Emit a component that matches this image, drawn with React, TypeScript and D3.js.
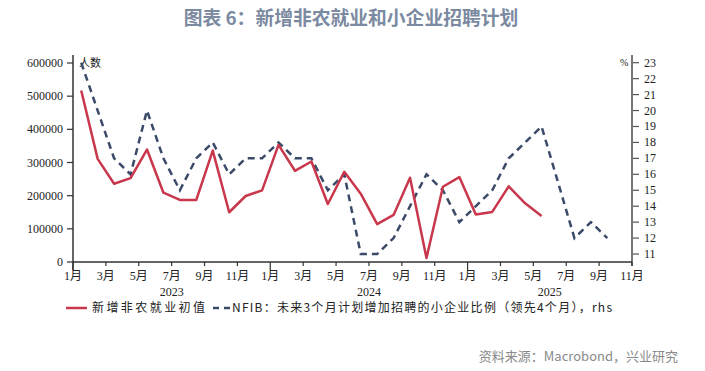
import React from "react";
import * as d3 from "d3";

const monthTickLabels = ["1月", "3月", "5月", "7月", "9月", "11月"];
const years = ["2023", "2024", "2025"];
const leftTicks = [0, 100000, 200000, 300000, 400000, 500000, 600000];
const rightTicks = [11, 12, 13, 14, 15, 16, 17, 18, 19, 20, 21, 22, 23];

// 新增非农就业初值 (Jan 2023 – May 2025)
const nfp = [
  517000, 311000, 236000, 253000, 339000, 209000, 187000, 187000, 336000, 150000, 199000, 216000,
  353000, 275000, 303000, 175000, 272000, 206000, 114000, 142000, 254000, 12000, 227000, 256000,
  143000, 151000, 228000, 177000, 139000,
];
// NFIB 未来3个月计划增加招聘的小企业比例（领先4个月）(Jan 2023 – Sep 2025)
const nfib = [
  23, 20, 17, 16, 20, 17, 15, 17, 18, 16, 17, 17,
  18, 17, 17, 15, 16, 11, 11, 12, 14, 16, 15, 13,
  14, 15, 17, 18, 19, 15.5, 12, 13, 12,
];

const legendLabels = ["新增非农就业初值", "NFIB：未来3个月计划增加招聘的小企业比例（领先4个月），rhs"];

const RED = "#c8374b";
const NAVY = "#3b4a68";
const SERIF = "'Liberation Serif', 'Noto Sans CJK SC', serif";
const CJK = "'Noto Sans CJK SC', sans-serif";

export default function App() {
  const x = d3.scaleLinear().domain([0, 34]).range([73, 632]);
  const yL = d3.scaleLinear().domain([0, 600000]).range([262, 63]);
  const yR = d3.scaleLinear().domain([10.5, 23]).range([262, 62.7]);

  const redLine = d3
    .line<number>()
    .x((_, i) => x(i + 0.5))
    .y((d) => yL(d));
  const blueLine = d3
    .line<number>()
    .x((_, i) => x(i + 0.5))
    .y((d) => yR(d));

  const tickMonths = d3.range(0, 35, 2);
  const yearCenters = [(x(0) + x(12)) / 2, (x(12) + x(24)) / 2, (x(24) + x(34)) / 2];

  return (
    <svg
      width={705}
      height={371}
      style={{ position: "absolute", left: 0, top: 0, background: "#fff" }}
    >
      <text
        x={351}
        y={25}
        textAnchor="middle"
        fontFamily={CJK}
        fontWeight="bold"
        fontSize={18.8}
        fill="#7b8aa1"
      >
        图表 6：新增非农就业和小企业招聘计划
      </text>

      {/* left axis */}
      <line x1={73} x2={73} y1={55} y2={270} stroke="#333" strokeWidth={1.5} />
      {leftTicks.map((t) => (
        <g key={"l" + t}>
          <line x1={67} x2={73} y1={yL(t)} y2={yL(t)} stroke="#333" strokeWidth={1.2} />
          <text
            x={63}
            y={yL(t) + 4}
            textAnchor="end"
            fontFamily={SERIF}
            fontSize={12}
            fill="#222"
          >
            {t}
          </text>
        </g>
      ))}
      <text x={79} y={67} fontFamily={CJK} fontSize={11} fill="#222">
        人数
      </text>

      {/* right axis */}
      <line x1={632} x2={632} y1={55} y2={266} stroke="#777" strokeWidth={2} />
      {rightTicks.map((t) => (
        <g key={"r" + t}>
          <line x1={633} x2={639} y1={yR(t)} y2={yR(t)} stroke="#555" strokeWidth={1.2} />
          <text x={644} y={yR(t) + 4} fontFamily={SERIF} fontSize={12} fill="#222">
            {t}
          </text>
        </g>
      ))}
      <text x={620} y={66} fontFamily={SERIF} fontSize={10} fill="#222">
        %
      </text>

      {/* x axis */}
      <line x1={73} x2={632} y1={262} y2={262} stroke="#333" strokeWidth={1.5} />
      {tickMonths.map((m) => {
        const isYear = m % 12 === 0;
        return (
          <g key={"x" + m}>
            <line
              x1={x(m)}
              x2={x(m)}
              y1={262}
              y2={isYear ? 270 : 266}
              stroke="#333"
              strokeWidth={1.2}
            />
            <text
              x={x(m)}
              y={280}
              textAnchor="middle"
              fontFamily={SERIF}
              fontSize={12}
              fill="#222"
            >
              {monthTickLabels[(m % 12) / 2]}
            </text>
          </g>
        );
      })}
      {years.map((yr, i) => (
        <text
          key={yr}
          x={yearCenters[i]}
          y={296}
          textAnchor="middle"
          fontFamily={SERIF}
          fontSize={12}
          fill="#222"
        >
          {yr}
        </text>
      ))}

      {/* series */}
      <path
        d={blueLine(nfib) || ""}
        fill="none"
        stroke={NAVY}
        strokeWidth={2.5}
        strokeDasharray="7,5"
      />
      <path d={redLine(nfp) || ""} fill="none" stroke={RED} strokeWidth={2.5} strokeLinejoin="round" />

      {/* legend */}
      <line x1={66} x2={87} y1={308} y2={308} stroke={RED} strokeWidth={2.5} />
      <text
        x={92}
        y={312}
        fontFamily={CJK}
        fontSize={12}
        fill="#222"
        textLength={113}
        lengthAdjust="spacing"
      >
        {legendLabels[0]}
      </text>
      <line
        x1={213}
        x2={232}
        y1={308}
        y2={308}
        stroke={NAVY}
        strokeWidth={2.5}
        strokeDasharray="6,5"
      />
      <text
        x={232}
        y={312}
        fontFamily={CJK}
        fontSize={12}
        fill="#222"
        textLength={380}
        lengthAdjust="spacing"
      >
        {legendLabels[1]}
      </text>

      {/* source */}
      <text x={678} y={361} textAnchor="end" fontFamily={CJK} fontSize={13} fill="#8a8a8a">
        资料来源：Macrobond，兴业研究
      </text>
    </svg>
  );
}
